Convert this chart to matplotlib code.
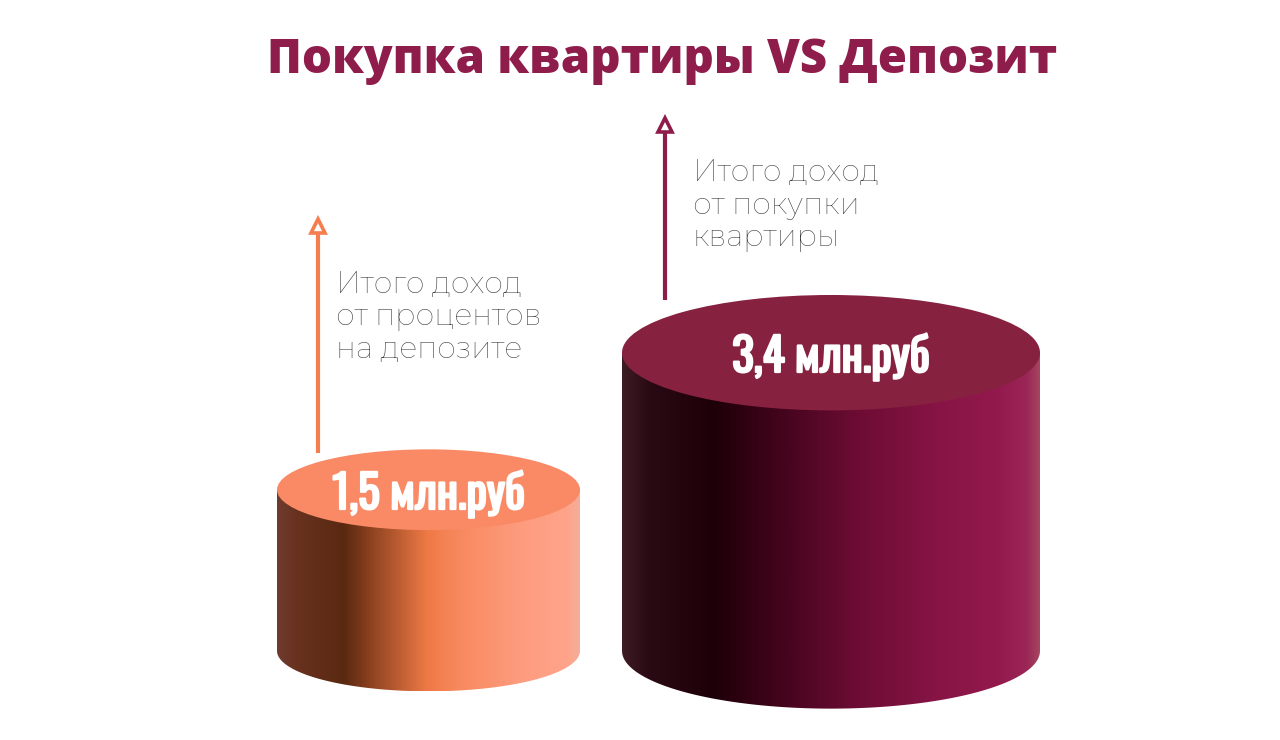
import numpy as np
import matplotlib
matplotlib.use("Agg")
import matplotlib.pyplot as plt
import matplotlib.patheffects as pe
from matplotlib.patches import Ellipse, PathPatch
from matplotlib.path import Path
from matplotlib.colors import LinearSegmentedColormap
from matplotlib import font_manager as fm

# ---- data ----
title = "Покупка квартиры VS Депозит"
categories = ["Итого доход\nот процентов\nна депозите", "Итого доход\nот покупки\nквартиры"]
values = [1.5, 3.4]           # млн. руб
value_labels = ["1,5 млн.руб", "3,4 млн.руб"]

# ---- styling ----
centers_x = [428.5, 831]
half_w = [151.5, 209]
ell_b = [0.56, 0.80]
baseline = -0.735
top_colors = ["#F98A65", "#86213F"]
arrow_colors = ["#F47E4E", "#8E1C4A"]
side_stops = [
    [(0.0, "#6E3B2E"), (0.06, "#683220"), (0.22, "#5A2810"), (0.32, "#934522"),
     (0.5, "#F07A46"), (0.62, "#F98B62"), (0.8, "#FD9B7E"), (0.96, "#FFA48A"), (1.0, "#F3AE9A")],
    [(0.0, "#3E1C24"), (0.06, "#2A0A14"), (0.22, "#1E0008"), (0.4, "#48051F"),
     (0.56, "#6C0C34"), (0.75, "#861444"), (0.9, "#93194D"), (0.97, "#9A2656"), (1.0, "#A4455F")],
]

def pick(fams):
    names = {f.name for f in fm.fontManager.ttflist}
    return [f for f in fams if f in names] + ["DejaVu Sans"]

title_font = pick(["Open Sans", "Roboto"])
thin_font = pick(["Montserrat", "Open Sans"])
narrow_font = pick(["Oswald", "Fira Sans Extra Condensed", "Roboto Condensed"])

fig = plt.figure(figsize=(12.8, 7.4), dpi=100)
ax = fig.add_axes([0, 0, 1, 1])
ax.set_xlim(0, 1280)
ax.set_ylim(-1.97, 8.29)
ax.axis("off")

for i, v in enumerate(values):
    cx, w, b = centers_x[i], half_w[i], ell_b[i]
    t = np.linspace(np.pi, 2 * np.pi, 100)
    xs = [cx - w, cx - w] + list(cx + w * np.cos(t)) + [cx + w]
    ys = [v, baseline] + list(baseline + b * np.sin(t)) + [v]
    verts = list(zip(xs, ys)) + [(cx - w, v)]
    codes = [Path.MOVETO] + [Path.LINETO] * (len(verts) - 2) + [Path.CLOSEPOLY]
    side = PathPatch(Path(verts, codes), facecolor="none", edgecolor="none")
    ax.add_patch(side)
    cmap = LinearSegmentedColormap.from_list("s%d" % i, side_stops[i])
    grad = np.linspace(0, 1, 512).reshape(1, -1)
    im = ax.imshow(grad, cmap=cmap, aspect="auto",
                   extent=[cx - w, cx + w, baseline - b, v], zorder=2, interpolation="bilinear")
    im.set_clip_path(side)
    top = Ellipse((cx, v), 2 * w, 2 * b, facecolor=top_colors[i], edgecolor="none", zorder=3)
    ax.add_patch(top)
    ax.text(cx, v - 0.05, value_labels[i], ha="center", va="center", color="white",
            fontsize=33, family=narrow_font, zorder=4,
            path_effects=[pe.withStroke(linewidth=1.6, foreground="white")])

# arrows + descriptions
arrow_x = [318, 665]
arrow_top = [5.21, 6.62]
text_x = [336, 693]
text_y = [3.89, 5.44]
for i, v in enumerate(values):
    y0 = v + ell_b[i] * 0.92
    ax.plot([arrow_x[i], arrow_x[i]], [y0, arrow_top[i] - 0.12], color=arrow_colors[i],
            lw=3, solid_capstyle="butt", zorder=2)
    ax.plot([arrow_x[i]], [arrow_top[i] - 0.06], marker="^", markersize=10, markerfacecolor="white",
            markeredgecolor=arrow_colors[i], markeredgewidth=2.6, zorder=3)
    ax.text(text_x[i], text_y[i], categories[i], ha="left", va="center", color="#3a3a3a",
            fontsize=21.5, family=thin_font, linespacing=1.2)

fig.text(0.517, 0.918, title, ha="center", va="center", color="#8F1D4B",
         fontsize=34, fontweight=800, family=title_font)

fig.savefig("out.png", dpi=100, facecolor="white")
